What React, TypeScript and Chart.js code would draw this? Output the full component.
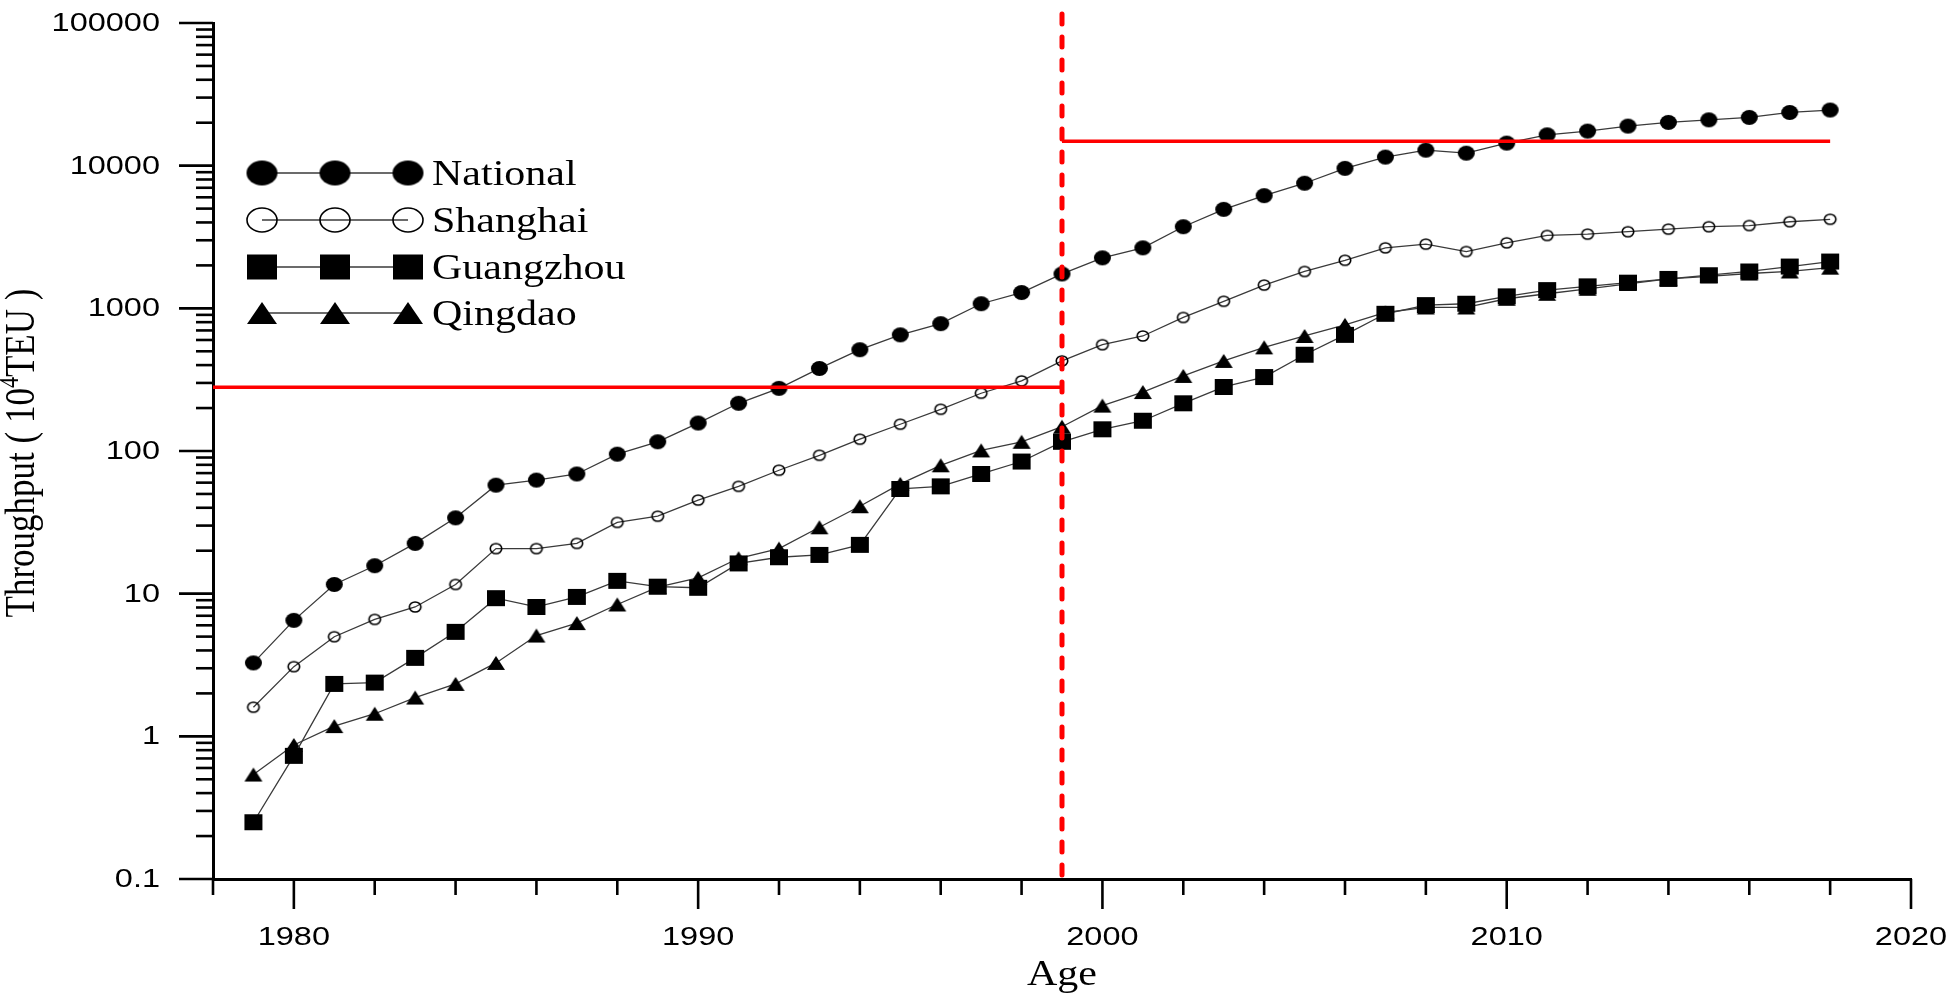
import React, { useEffect, useRef } from 'react';
import { Chart, registerables } from 'chart.js';

Chart.register(...registerables);

// container throughput, 10^4 TEU
const years = [
  1979, 1980, 1981, 1982, 1983, 1984, 1985, 1986, 1987, 1988,
  1989, 1990, 1991, 1992, 1993, 1994, 1995, 1996, 1997, 1998,
  1999, 2000, 2001, 2002, 2003, 2004, 2005, 2006, 2007, 2008,
  2009, 2010, 2011, 2012, 2013, 2014, 2015, 2016, 2017, 2018,
];
const national = [
  3.27, 6.5, 11.6, 15.7, 22.5, 34, 57.6, 62.5, 69, 95,
  116, 157, 216, 275, 379, 513, 652, 781, 1077, 1290,
  1742, 2260, 2654, 3733, 4943, 6166, 7530, 9580, 11480, 12850,
  12240, 14400, 16440, 17480, 18940, 20100, 20940, 21800, 23600, 24540,
];
const shanghai = [
  1.6, 3.08, 4.99, 6.6, 8.07, 11.6, 20.7, 20.7, 22.5, 31.6,
  34.9, 45.3, 56.5, 73.3, 93.3, 121, 154, 196, 254, 310,
  428, 556, 640, 863, 1120, 1455, 1813, 2172, 2654, 2818,
  2500, 2877, 3243, 3311, 3444, 3590, 3733, 3804, 4046, 4208,
];
const guangzhou = [
  0.25, 0.73, 2.33, 2.38, 3.55, 5.4, 9.3, 8.07, 9.49, 12.3,
  11.2, 11.0, 16.3, 18.0, 18.7, 22.0, 54.2, 56.5, 69.0, 84.4,
  116, 142, 163, 216, 281, 330, 473, 652, 916, 1054,
  1077, 1213, 1342, 1426, 1514, 1608, 1707, 1813, 1963, 2128,
];
const qingdao = [
  0.54, 0.87, 1.18, 1.44, 1.87, 2.33, 3.27, 5.09, 6.22, 8.4,
  11.1, 12.9, 17.7, 20.7, 29.2, 41.0, 58.8, 79.4, 101, 116,
  148, 208, 259, 336, 428, 533, 640, 766, 935, 1014,
  1014, 1167, 1265, 1371, 1483, 1608, 1675, 1754, 1813, 1928,
];

const xTicks = [1978, 1980, 1982, 1984, 1986, 1988, 1990, 1992, 1994, 1996, 1998, 2000, 2002, 2004, 2006, 2008, 2010, 2012, 2014, 2016, 2018, 2020];
const xLabels = [1980, 1990, 2000, 2010, 2020];
const yDecades = [0.1, 1, 10, 100, 1000, 10000, 100000];
const yLabels = ['0.1', '1', '10', '100', '1000', '10000', '100000'];
const minorSteps = [2, 3, 4, 5, 6, 7, 8, 9];

const splitYear = 1999;
const earlyLevel = 280;
const lateLevel = 14830;

const seriesNames = ['National', 'Shanghai', 'Guangzhou', 'Qingdao'];

const RED = '#ff0000';
const SANS = '"Liberation Sans", Arial, sans-serif';
const SERIF = '"Liberation Serif", "Times New Roman", serif';

type Shape = 'circle' | 'rect' | 'triangle';

function makeMarker(shape: Shape, w: number, h: number, filled: boolean): HTMLCanvasElement {
  const c = document.createElement('canvas');
  c.width = Math.ceil(w + 4);
  c.height = Math.ceil(h + 4);
  const g = c.getContext('2d')!;
  const cx = c.width / 2;
  const cy = c.height / 2;
  g.fillStyle = '#000';
  g.strokeStyle = '#000';
  g.lineWidth = 1.6;
  g.beginPath();
  if (shape === 'circle') g.ellipse(cx, cy, w / 2, h / 2, 0, 0, Math.PI * 2);
  else if (shape === 'rect') g.rect(cx - w / 2, cy - h / 2, w, h);
  else {
    g.moveTo(cx, cy - h / 2);
    g.lineTo(cx + w / 2, cy + h / 2);
    g.lineTo(cx - w / 2, cy + h / 2);
    g.closePath();
  }
  if (filled) g.fill();
  else g.stroke();
  return c;
}

function stretchText(ctx: CanvasRenderingContext2D, text: string, x: number, y: number, sx: number) {
  ctx.save();
  ctx.translate(x, y);
  ctx.scale(sx, 1);
  ctx.fillText(text, 0, 0);
  ctx.restore();
}

const App: React.FC = () => {
  const canvasRef = useRef<HTMLCanvasElement>(null);
  const chartRef = useRef<Chart | null>(null);

  useEffect(() => {
    if (!canvasRef.current) return;
    if (chartRef.current) chartRef.current.destroy();

    const plotMarkers = [
      makeMarker('circle', 17, 15, true),
      makeMarker('circle', 11.5, 10, false),
      makeMarker('rect', 18, 16, true),
      makeMarker('triangle', 18, 14, true),
    ];
    const legendMarkers = [
      makeMarker('circle', 31, 25, true),
      makeMarker('circle', 30, 24, false),
      makeMarker('rect', 30, 25, true),
      makeMarker('triangle', 30, 22, true),
    ];
    const values = [national, shanghai, guangzhou, qingdao];

    const seriesSets = values.map((vals, i) => ({
      label: seriesNames[i],
      data: years.map((x, j) => ({ x, y: vals[j] })),
      borderColor: '#3a3a3a',
      borderWidth: 1.3,
      pointStyle: plotMarkers[i],
      pointRadius: 8,
      fill: false,
    }));

    const decor = {
      id: 'decor',
      afterDatasetsDraw(chart: any) {
        const { ctx, chartArea, scales } = chart;
        const px = scales.x.getPixelForValue(splitYear);
        ctx.save();
        ctx.strokeStyle = RED;
        ctx.lineWidth = 5;
        ctx.lineCap = 'round';
        ctx.setLineDash([10, 13]);
        // start at the axis so the dash pattern meets it
        ctx.beginPath();
        ctx.moveTo(px, chartArea.bottom - 4);
        ctx.lineTo(px, 2);
        ctx.stroke();
        ctx.restore();
      },
      afterDraw(chart: any) {
        const { ctx, chartArea, scales } = chart;
        const { left, bottom, right } = chartArea;
        const xs = scales.x;
        const ys = scales.y;
        ctx.save();
        ctx.strokeStyle = '#000';
        ctx.lineWidth = 2.6;
        const seg = (x1: number, y1: number, x2: number, y2: number) => {
          ctx.beginPath();
          ctx.moveTo(x1, y1);
          ctx.lineTo(x2, y2);
          ctx.stroke();
        };

        // y ticks
        ctx.fillStyle = '#000';
        ctx.font = `25px ${SANS}`;
        ctx.textAlign = 'right';
        ctx.textBaseline = 'middle';
        yDecades.forEach((d, i) => {
          const py = ys.getPixelForValue(d);
          seg(left - 34, py, left, py);
          if (i < yDecades.length - 1) {
            minorSteps.forEach((m) => {
              const p = ys.getPixelForValue(d * m);
              seg(left - 17, p, left, p);
            });
          }
          stretchText(ctx, yLabels[i], left - 53, py + 1, 1.3);
        });

        // x ticks
        ctx.textAlign = 'center';
        xTicks.forEach((t) => {
          const p = xs.getPixelForValue(t);
          const major = xLabels.includes(t);
          seg(p, bottom, p, bottom + (major ? 30 : 16));
          if (major) stretchText(ctx, String(t), p, bottom + 59, 1.3);
        });

        // x title
        ctx.font = `35px ${SERIF}`;
        ctx.textBaseline = 'alphabetic';
        stretchText(ctx, 'Age', (left + right) / 2, 985, 1.2);

        // y title with superscript
        ctx.save();
        ctx.translate(34, 453);
        ctx.rotate(-Math.PI / 2);
        ctx.scale(1, 1.2);
        const parts: [string, number, number][] = [
          ['Throughput ( 10', 35, 0],
          ['4', 22, -13],
          ['TEU )', 35, 0],
        ];
        let total = 0;
        parts.forEach(([s, size]) => {
          ctx.font = `${size}px ${SERIF}`;
          total += ctx.measureText(s).width;
        });
        let cx = -total / 2;
        ctx.textAlign = 'left';
        parts.forEach(([s, size, dy]) => {
          ctx.font = `${size}px ${SERIF}`;
          ctx.fillText(s, cx, dy);
          cx += ctx.measureText(s).width;
        });
        ctx.restore();

        // legend
        const rowY = [173, 220, 267, 313];
        const mx = [262, 335, 408];
        ctx.font = `35px ${SERIF}`;
        ctx.textAlign = 'left';
        seriesNames.forEach((name, i) => {
          ctx.strokeStyle = '#3a3a3a';
          ctx.lineWidth = 1.3;
          seg(mx[0], rowY[i], mx[2], rowY[i]);
          const img = legendMarkers[i];
          mx.forEach((x) => ctx.drawImage(img, x - img.width / 2, rowY[i] - img.height / 2));
          stretchText(ctx, name, 432, rowY[i] + 12, 1.2);
        });
        ctx.restore();
      },
    };

    chartRef.current = new Chart(canvasRef.current, {
      type: 'line',
      data: {
        datasets: [
          {
            label: 'early level',
            data: [{ x: 1978, y: earlyLevel }, { x: splitYear, y: earlyLevel }],
            borderColor: RED,
            borderWidth: 3.5,
            pointRadius: 0,
          },
          {
            label: 'late level',
            data: [{ x: splitYear, y: lateLevel }, { x: 2018, y: lateLevel }],
            borderColor: RED,
            borderWidth: 3.5,
            pointRadius: 0,
          },
          ...seriesSets,
        ] as any,
      },
      options: {
        responsive: false,
        animation: false,
        events: [],
        layout: { padding: { left: 213, right: 39, top: 23, bottom: 116 }, autoPadding: false },
        plugins: { legend: { display: false }, tooltip: { enabled: false } },
        scales: {
          x: {
            type: 'linear',
            min: 1978,
            max: 2020,
            grid: { display: false, drawTicks: false },
            border: { display: true, color: '#000', width: 3 },
            ticks: { display: false },
          },
          y: {
            type: 'logarithmic',
            min: 0.1,
            max: 100000,
            grid: { display: false, drawTicks: false },
            border: { display: true, color: '#000', width: 3 },
            ticks: { display: false },
          },
        },
        elements: { line: { tension: 0 } },
      },
      plugins: [decor],
    } as any);

    return () => {
      if (chartRef.current) {
        chartRef.current.destroy();
        chartRef.current = null;
      }
    };
  }, []);

  return (
    <div style={{ position: 'absolute', left: 0, top: 0, width: 1950, height: 995, background: '#fff' }}>
      <canvas ref={canvasRef} width={1950} height={995}></canvas>
    </div>
  );
};

export default App;
